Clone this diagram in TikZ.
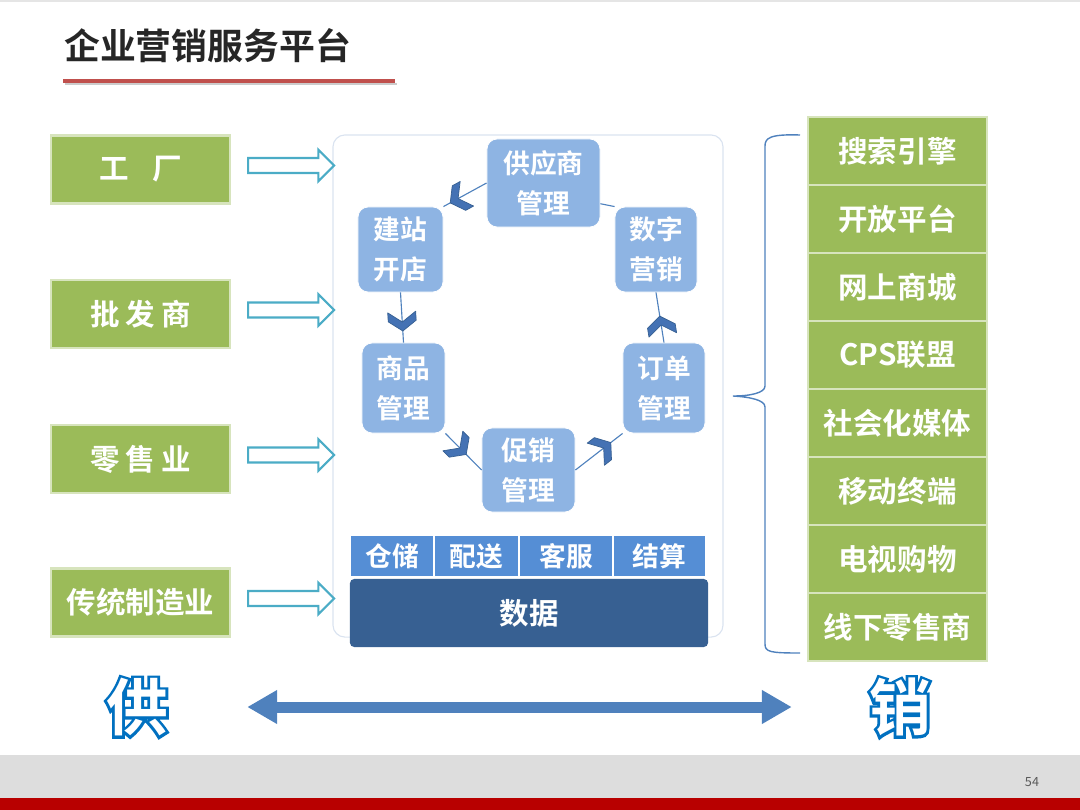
\documentclass[tikz,border=0pt]{standalone}
\usepackage{fontspec}
\setmainfont{Noto Sans CJK SC}[BoldFont={Noto Sans CJK SC Bold}]
\newfontfamily\glyphfat{Noto Sans CJK SC Bold}[FakeBold=9]
\usepackage{xcolor}
\usepackage{tikz}
\usetikzlibrary{arrows.meta,shapes.arrows,decorations.markings,positioning}

\definecolor{leafgreen}{HTML}{9BBB59}
\definecolor{leafrim}{HTML}{D7E4BD}
\definecolor{paleblue}{HTML}{8EB4E3}
\definecolor{midblue}{HTML}{558ED5}
\definecolor{deepblue}{HTML}{376092}
\definecolor{lineblue}{HTML}{4F81BD}
\definecolor{chevblue}{HTML}{4472B4}
\definecolor{aqualine}{HTML}{4BACC6}
\definecolor{panelrim}{HTML}{DAE3F0}
\definecolor{titlered}{HTML}{C0504D}
\definecolor{bandred}{HTML}{B80000}
\definecolor{bandgray}{HTML}{DDDDDD}
\definecolor{glyphblue}{HTML}{0070C0}

% outlined glyph: fat blue copy under a white one
\newcommand\hollowglyph[1]{\rlap{\glyphfat\textcolor{glyphblue}{#1}}\textcolor{white}{\bfseries #1}}

\begin{document}
\begin{tikzpicture}[x=0.025cm,y=-0.025cm,
  src/.style={draw=leafrim,line width=1.5pt,fill=leafgreen,text=white,
              minimum width=4.475cm,minimum height=1.7cm,
              font=\fontsize{21}{24}\selectfont\bfseries},
  chan/.style={draw=leafrim,line width=1.5pt,fill=leafgreen,text=white,outer sep=0pt,
              minimum width=4.475cm,minimum height=1.7cm,
              font=\fontsize{21}{24}\selectfont\bfseries},
  cyc/.style={fill=paleblue,draw=white,line width=0.6pt,rounded corners=0.25cm,
              align=center,text=white,inner sep=2pt,
              font=\fontsize{19}{28.5}\selectfont\bfseries},
  svc/.style={fill=midblue,draw=white,line width=1pt,outer sep=0pt,text=white,
              minimum height=1.05cm,font=\fontsize{19}{22}\selectfont\bfseries},
  inarr/.style={single arrow,draw=aqualine,line width=1.5pt,fill=white,
                minimum height=2.15cm,inner xsep=0pt,inner ysep=0.16cm,
                single arrow head extend=0.21cm,yshift=0.1cm},
  link/.style={draw=lineblue,line width=0.8pt},
  flow/.style={link,postaction={decorate},
               decoration={markings,mark=at position #1 with {\pic[transform shape]{chev};}}},
  chev/.pic={\filldraw[fill=chevblue,draw=deepblue,line width=0.5pt,line join=round]
               (-10,-14) -- (-1,-14) -- (9,0) -- (-1,14) -- (-10,14) -- (0,0) -- cycle;},
  bigglyph/.style={inner sep=0pt,font=\fontsize{44}{44}\selectfont}]

  \useasboundingbox (0,0) rectangle (1080,810);

  % slide frame
  \fill[black!10] (0,0) rectangle (1080,2);
  \fill[bandgray] (0,755) rectangle (1080,798);
  \fill[bandred] (0,798) rectangle (1080,810);
  \node[inner sep=0pt,text=black!65,font=\fontsize{9}{10}\selectfont] (pgno) at (1032,782) {54};

  % title
  \node[anchor=west,inner sep=0pt,text=black!85,font=\fontsize{25.5}{30}\selectfont\bfseries]
    (title) at (64,46) {企业营销服务平台};
  \draw[black!20,line width=2pt] (65,84) -- (397,84);
  \draw[titlered,line width=2.2pt] (63,81) -- (395,81);

  % platform panel
  \node[draw=panelrim,line width=0.8pt,rounded corners=0.3cm,
        minimum width=9.75cm,minimum height=12.55cm] (panel) at (528,386) {};

  % supply side
  \node[src] (fac) at (140.5,169.5) {工\hspace{0.8em}厂};
  \node[src] (whs) at (140.5,314)   {批\hspace{0.2em}发\hspace{0.2em}商};
  \node[src] (ret) at (140.5,459)   {零\hspace{0.2em}售\hspace{0.2em}业};
  \node[src] (mfg) at (140.5,602.5) {传统制造业};

  \node[inarr,right=0.4cm of fac] (facin) {};
  \node[inarr,right=0.4cm of whs] (whsin) {};
  \node[inarr,right=0.4cm of ret] (retin) {};
  \node[inarr,right=0.4cm of mfg] (mfgin) {};

  % business cycle
  \node[cyc,minimum width=2.825cm,minimum height=2.2cm]  (sup)   at (543.5,183)   {供应商\\管理};
  \node[cyc,minimum width=2.125cm,minimum height=2.125cm] (shop) at (400.5,249.5) {建站\\开店};
  \node[cyc,minimum width=2.05cm,minimum height=2.125cm] (digit) at (656,249.5)   {数字\\营销};
  \node[cyc,minimum width=2.075cm,minimum height=2.25cm] (goods) at (403.5,388)   {商品\\管理};
  \node[cyc,minimum width=2.05cm,minimum height=2.25cm]  (order) at (664,388)     {订单\\管理};
  \node[cyc,minimum width=2.325cm,minimum height=2.1cm]  (promo) at (528.5,470)   {促销\\管理};

  \draw[flow=0.66] (sup.west) -- (shop.north east);
  \draw[flow=0.59] (shop.south) -- (goods.north);
  \draw[flow=0.4]  (goods.south east) -- (promo.west);
  \draw[flow=0.6]  (promo.east) -- (order.south west);
  \draw[flow=0.35] (order.north) -- (digit.south);
  \draw[link] (digit.north west) -- (sup.-20);

  % services and data
  \node[svc,minimum width=2.1cm] (store) at (392,556) {仓储};
  \node[svc,minimum width=2.125cm,right=0pt of store] (deliv) {配送};
  \node[svc,minimum width=2.35cm,right=0pt of deliv] (care) {客服};
  \node[svc,minimum width=2.325cm,right=0pt of care] (settle) {结算};
  \node[fill=deepblue,rounded corners=3pt,text=white,minimum width=8.95cm,minimum height=1.7cm,
        font=\fontsize{21}{24}\selectfont\bfseries] (data) at (529,613) {数据};

  % sales channels
  \node[chan] (ch1) at (897.5,151) {搜索引擎};
  \node[chan,below=0pt of ch1] (ch2) {开放平台};
  \node[chan,below=0pt of ch2] (ch3) {网上商城};
  \node[chan,below=0pt of ch3] (ch4) {CPS联盟};
  \node[chan,below=0pt of ch4] (ch5) {社会化媒体};
  \node[chan,below=0pt of ch5] (ch6) {移动终端};
  \node[chan,below=0pt of ch6] (ch7) {电视购物};
  \node[chan,below=0pt of ch7] (ch8) {线下零售商};

  \draw[lineblue,line width=1pt] (800,135) .. controls (770,134) and (765,138) .. (765,146)
    -- (765,386) .. controls (765,393) and (750,396) .. (733,396)
    .. controls (750,397) and (765,400) .. (765,407)
    -- (765,644) .. controls (765,652) and (770,653) .. (800,653);

  % supply <-> sales
  \node[bigglyph] (gong) at (137,707) {\hollowglyph{供}};
  \node[bigglyph] (xiao) at (900,707) {\hollowglyph{销}};
  \draw[lineblue,line width=0.275cm,
        {Triangle[length=0.75cm,width=0.8cm]}-{Triangle[length=0.75cm,width=0.8cm]},
        shorten <=1.975cm,shorten >=1.925cm] (gong) -- (xiao);

\end{tikzpicture}
\end{document}
